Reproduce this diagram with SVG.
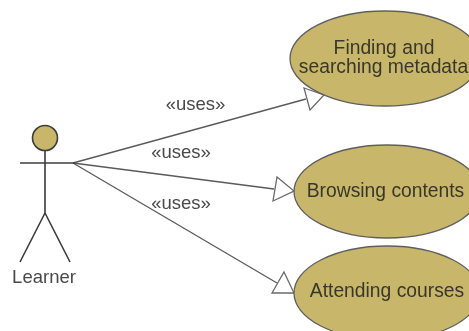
<svg xmlns="http://www.w3.org/2000/svg" width="469" height="331" viewBox="0 0 469 331">
<style>
.uc{fill:#c8b66b;stroke:#5f5f5f;stroke-width:1.3}
.t{font-family:"Liberation Sans",Arial,sans-serif;font-size:19.3px;fill:#38382a;text-anchor:middle}
.l{font-family:"Liberation Sans",Arial,sans-serif;font-size:18.5px;fill:#4a4a4a;text-anchor:middle}
.ln{stroke:#5a5a5a;stroke-width:1.3;fill:none}
.a{stroke:#6a6a6a;stroke-width:1.3;fill:#fff;stroke-linejoin:miter}
.s{stroke:#3c3c3c;stroke-width:1.6;fill:none}
</style>
<defs><filter id="b" x="-5%" y="-5%" width="110%" height="110%"><feGaussianBlur stdDeviation="0.35"/></filter></defs>
<rect width="469" height="331" fill="#fff"/>
<g filter="url(#b)">
<g id="connectors">
<path class="ln" d="M73 163L306 99"/>
<path class="ln" d="M73 163L274 189"/>
<path class="ln" d="M73 163L277 283"/>
<polygon class="a" points="304,88 324,95 310,110"/>
<polygon class="a" points="277,177 294,191 273,201"/>
<polygon class="a" points="284,272 294,293 272,293"/>
<text class="l" x="195.500" y="110">«uses»</text>
<text class="l" x="181" y="158">«uses»</text>
<text class="l" x="181" y="209">«uses»</text>
</g>
<g id="learner">
<circle cx="45" cy="138" r="12.5" fill="#c8b66b" stroke="#3c3c3c" stroke-width="1.6"/>
<path class="s" d="M20 163H75M45 150V213M45 213L20 262M45 213L70 262"/>
<text class="l" x="44" y="283">Learner</text>
</g>
<g id="finding">
<ellipse class="uc" cx="385" cy="58.500" rx="95" ry="47.500"/>
<text class="t" x="384" y="54">Finding and</text>
<text class="t" x="383.500" y="73">searching metadata</text>
</g>
<g id="browsing">
<ellipse class="uc" cx="387" cy="191.500" rx="93" ry="46.500"/>
<text class="t" x="385.500" y="197">Browsing contents</text>
</g>
<g id="attending">
<ellipse class="uc" cx="387" cy="293" rx="93" ry="47"/>
<text class="t" x="387" y="297">Attending courses</text>
</g>
</g>
</svg>
